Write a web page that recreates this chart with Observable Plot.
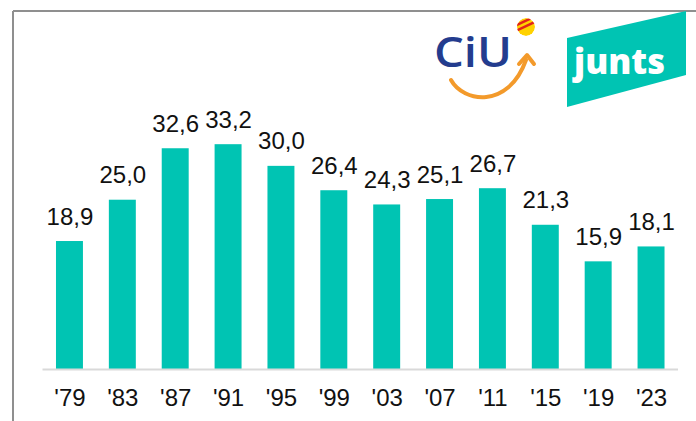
<!DOCTYPE html>
<html>
<head>
<meta charset="utf-8">
<script src="https://cdn.jsdelivr.net/npm/d3@7"></script>
<script src="https://cdn.jsdelivr.net/npm/@observablehq/plot@0.6"></script>
<style>
  html, body { margin: 0; padding: 0; background: #fff; }
  #wrap { position: relative; width: 696px; height: 421px; overflow: hidden; }
  #wrap svg { position: absolute; left: 0; top: 0; }
</style>
</head>
<body>
<div id="wrap"></div>
<script>
const years = ["'79", "'83", "'87", "'91", "'95", "'99", "'03", "'07", "'11", "'15", "'19", "'23"];
const shares = [18.9, 25.0, 32.6, 33.2, 30.0, 26.4, 24.3, 25.1, 26.7, 21.3, 15.9, 18.1];

const data = years.map((y, i) => ({year: y, value: shares[i]}));
const fmt = v => v.toFixed(1).replace(".", ",");
const teal = "#00c4b3";

const chart = Plot.plot({
  width: 696,
  height: 421,
  marginLeft: 42.5,
  marginRight: 18,
  marginTop: 132,
  marginBottom: 52,
  style: {fontFamily: "'Liberation Sans', Arial, sans-serif", background: "transparent"},
  x: {domain: years, paddingInner: 0.49, paddingOuter: 0.255, round: false, label: null},
  y: {domain: [0, 35], axis: null},
  marks: [
    Plot.barY(data, {x: "year", y: "value", fill: teal}),
    Plot.ruleY([0], {stroke: "#d9d9d9", strokeWidth: 2}),
    Plot.text(data, {x: "year", y: "value", text: d => fmt(d.value), dy: -17, lineAnchor: "bottom", fontSize: 24, fill: "#111"}),
    Plot.axisX({tickSize: 0, tickPadding: 19, fontSize: 24, label: null, color: "#111"})
  ]
});
document.getElementById("wrap").appendChild(chart);

// Decorative overlay: frame and logos
const ns = "http://www.w3.org/2000/svg";
const ov = d3.select("#wrap").append("svg")
  .attr("xmlns", ns).attr("width", 696).attr("height", 421);

// frame lines
ov.append("line").attr("x1", 13).attr("y1", 11).attr("x2", 696).attr("y2", 11)
  .attr("stroke", "#8f8f8f").attr("stroke-width", 2);
ov.append("line").attr("x1", 13).attr("y1", 11).attr("x2", 13).attr("y2", 421)
  .attr("stroke", "#8f8f8f").attr("stroke-width", 2);

// CiU logo
ov.append("text").attr("x", 434).attr("y", 67).attr("textLength", 78)
  .attr("lengthAdjust", "spacingAndGlyphs")
  .attr("font-family", "'Open Sans', 'Liberation Sans', sans-serif")
  .attr("font-weight", 600).attr("font-size", 41).attr("fill", "#233c8e").text("CiU");
ov.append("path").attr("d", "M451,80 C463,102 508,110 526,60")
  .attr("fill", "none").attr("stroke", "#f39a2b").attr("stroke-width", 4).attr("stroke-linecap", "round");
ov.append("path").attr("d", "M519,64 L527,55 L534,64")
  .attr("fill", "none").attr("stroke", "#f39a2b").attr("stroke-width", 4)
  .attr("stroke-linecap", "round").attr("stroke-linejoin", "round");
const defs = ov.append("defs");
defs.append("clipPath").attr("id", "ball").append("circle").attr("cx", 526).attr("cy", 27).attr("r", 9);
const g = ov.append("g").attr("clip-path", "url(#ball)");
g.append("circle").attr("cx", 526).attr("cy", 27).attr("r", 9).attr("fill", "#ffd200");
[-6, -1, 4, 9].forEach(o => {
  g.append("rect").attr("x", 512).attr("y", 16 + o).attr("width", 30).attr("height", 2.5)
    .attr("fill", "#e2231a").attr("transform", "rotate(-25,526,27)");
});

// junts logo
ov.append("path").attr("d", "M567,38 L686,11 L686,75 L567,107 Z").attr("fill", teal);
ov.append("text").attr("x", 574).attr("y", 74).attr("textLength", 91)
  .attr("lengthAdjust", "spacingAndGlyphs")
  .attr("font-family", "'Open Sans', 'Liberation Sans', sans-serif")
  .attr("font-weight", 800).attr("font-size", 36).attr("fill", "#fff").text("junts");
</script>
</body>
</html>
